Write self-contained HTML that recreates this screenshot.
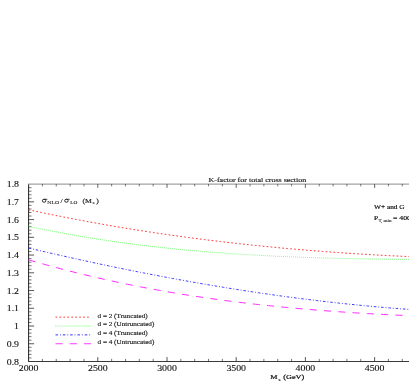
<!DOCTYPE html>
<html><head><meta charset="utf-8"><title>K-factor for total cross section</title>
<style>html,body{margin:0;padding:0;background:#fff;}body{width:409px;height:382px;overflow:hidden;font-family:"Liberation Serif",serif;}svg{display:block;}</style>
</head><body>
<svg width="409" height="382" viewBox="0 0 409 382">
<defs><filter id="b" x="-5%" y="-5%" width="110%" height="110%"><feGaussianBlur stdDeviation="0.35"/></filter></defs>
<rect width="409" height="382" fill="#fff"/>
<g filter="url(#b)">
<line x1="28.6" y1="184.1" x2="28.6" y2="361.5" stroke="#222" stroke-width="1"/>
<line x1="28.1" y1="361.5" x2="411" y2="361.5" stroke="#222" stroke-width="0.9"/>
<line x1="28.1" y1="184.1" x2="411" y2="184.1" stroke="#8a8a8a" stroke-width="1.0"/>
<path d="M28.6 343.76h5.5M28.6 326.02h5.5M28.6 308.28h5.5M28.6 290.54h5.5M28.6 272.80h5.5M28.6 255.06h5.5M28.6 237.32h5.5M28.6 219.58h5.5M28.6 201.84h5.5" stroke="#222" stroke-width="0.75" fill="none"/>
<path d="M28.6 357.95h2.9M28.6 354.40h2.9M28.6 350.86h2.9M28.6 347.31h2.9M28.6 340.21h2.9M28.6 336.66h2.9M28.6 333.12h2.9M28.6 329.57h2.9M28.6 322.47h2.9M28.6 318.92h2.9M28.6 315.38h2.9M28.6 311.83h2.9M28.6 304.73h2.9M28.6 301.18h2.9M28.6 297.64h2.9M28.6 294.09h2.9M28.6 286.99h2.9M28.6 283.44h2.9M28.6 279.90h2.9M28.6 276.35h2.9M28.6 269.25h2.9M28.6 265.70h2.9M28.6 262.16h2.9M28.6 258.61h2.9M28.6 251.51h2.9M28.6 247.96h2.9M28.6 244.42h2.9M28.6 240.87h2.9M28.6 233.77h2.9M28.6 230.22h2.9M28.6 226.68h2.9M28.6 223.13h2.9M28.6 216.03h2.9M28.6 212.48h2.9M28.6 208.94h2.9M28.6 205.39h2.9M28.6 198.29h2.9M28.6 194.74h2.9M28.6 191.20h2.9M28.6 187.65h2.9" stroke="#222" stroke-width="0.62" fill="none"/>
<path d="M97.80 361.5v-4.4M167.00 361.5v-4.4M236.20 361.5v-4.4M305.40 361.5v-4.4M374.60 361.5v-4.4" stroke="#222" stroke-width="0.75" fill="none"/>
<path d="M42.44 361.5v-2.6M56.28 361.5v-2.6M70.12 361.5v-2.6M83.96 361.5v-2.6M111.64 361.5v-2.6M125.48 361.5v-2.6M139.32 361.5v-2.6M153.16 361.5v-2.6M180.84 361.5v-2.6M194.68 361.5v-2.6M208.52 361.5v-2.6M222.36 361.5v-2.6M250.04 361.5v-2.6M263.88 361.5v-2.6M277.72 361.5v-2.6M291.56 361.5v-2.6M319.24 361.5v-2.6M333.08 361.5v-2.6M346.92 361.5v-2.6M360.76 361.5v-2.6M388.44 361.5v-2.6M402.28 361.5v-2.6" stroke="#222" stroke-width="0.62" fill="none"/>
<path d="M97.80 184.1v3.8M167.00 184.1v3.8M236.20 184.1v3.8M305.40 184.1v3.8M374.60 184.1v3.8" stroke="#222" stroke-width="0.7" fill="none"/>
<path d="M42.44 184.1v2.2M56.28 184.1v2.2M70.12 184.1v2.2M83.96 184.1v2.2M111.64 184.1v2.2M125.48 184.1v2.2M139.32 184.1v2.2M153.16 184.1v2.2M180.84 184.1v2.2M194.68 184.1v2.2M208.52 184.1v2.2M222.36 184.1v2.2M250.04 184.1v2.2M263.88 184.1v2.2M277.72 184.1v2.2M291.56 184.1v2.2M319.24 184.1v2.2M333.08 184.1v2.2M346.92 184.1v2.2M360.76 184.1v2.2M388.44 184.1v2.2M402.28 184.1v2.2" stroke="#222" stroke-width="0.62" fill="none"/>
<path d="M28.60 209.79 L31.80 210.48 L34.99 211.16 L38.19 211.84 L41.39 212.51 L44.58 213.18 L47.78 213.84 L50.98 214.49 L54.17 215.14 L57.37 215.78 L60.57 216.42 L63.76 217.05 L66.96 217.68 L70.16 218.30 L73.35 218.91 L76.55 219.52 L79.75 220.12 L82.94 220.72 L86.14 221.31 L89.34 221.90 L92.53 222.48 L95.73 223.06 L98.93 223.63 L102.12 224.20 L105.32 224.76 L108.52 225.31 L111.71 225.86 L114.91 226.41 L118.11 226.95 L121.30 227.48 L124.50 228.01 L127.70 228.53 L130.89 229.05 L134.09 229.57 L137.29 230.07 L140.48 230.58 L143.68 231.07 L146.88 231.57 L150.07 232.06 L153.27 232.54 L156.47 233.02 L159.66 233.49 L162.86 233.96 L166.06 234.42 L169.25 234.88 L172.45 235.33 L175.65 235.78 L178.84 236.22 L182.04 236.66 L185.24 237.09 L188.43 237.52 L191.63 237.95 L194.83 238.37 L198.02 238.78 L201.22 239.19 L204.42 239.59 L207.61 240.00 L210.81 240.39 L214.01 240.78 L217.20 241.17 L220.40 241.55 L223.59 241.93 L226.79 242.30 L229.99 242.67 L233.18 243.03 L236.38 243.39 L239.58 243.74 L242.77 244.09 L245.97 244.44 L249.17 244.78 L252.36 245.12 L255.56 245.45 L258.76 245.78 L261.95 246.10 L265.15 246.42 L268.35 246.73 L271.54 247.04 L274.74 247.35 L277.94 247.65 L281.13 247.95 L284.33 248.24 L287.53 248.53 L290.72 248.82 L293.92 249.10 L297.12 249.37 L300.31 249.65 L303.51 249.91 L306.71 250.18 L309.90 250.44 L313.10 250.69 L316.30 250.95 L319.49 251.19 L322.69 251.44 L325.89 251.68 L329.08 251.92 L332.28 252.15 L335.48 252.38 L338.67 252.60 L341.87 252.82 L345.07 253.04 L348.26 253.25 L351.46 253.46 L354.66 253.67 L357.85 253.87 L361.05 254.06 L364.25 254.26 L367.44 254.45 L370.64 254.64 L373.84 254.82 L377.03 255.00 L380.23 255.17 L383.43 255.35 L386.62 255.52 L389.82 255.68 L393.02 255.84 L396.21 256.00 L399.41 256.15 L402.61 256.30 L405.80 256.45 L409.00 256.60" stroke="#ff2020" stroke-width="0.9" stroke-dasharray="1.7 2.25" stroke-linecap="butt" fill="none" opacity="1"/>
<path d="M28.60 226.28 L31.80 226.96 L34.99 227.64 L38.19 228.31 L41.39 228.97 L44.58 229.62 L47.78 230.26 L50.98 230.89 L54.17 231.51 L57.37 232.13 L60.57 232.73 L63.76 233.33 L66.96 233.91 L70.16 234.49 L73.35 235.06 L76.55 235.62 L79.75 236.17 L82.94 236.71 L86.14 237.24 L89.34 237.77 L92.53 238.29 L95.73 238.80 L98.93 239.30 L102.12 239.79 L105.32 240.27 L108.52 240.75 L111.71 241.22 L114.91 241.68 L118.11 242.13 L121.30 242.57 L124.50 243.01 L127.70 243.44 L130.89 243.86 L134.09 244.28 L137.29 244.68 L140.48 245.08 L143.68 245.47 L146.88 245.86 L150.07 246.24 L153.27 246.61 L156.47 246.97 L159.66 247.33 L162.86 247.68 L166.06 248.02 L169.25 248.36 L172.45 248.69 L175.65 249.01 L178.84 249.32 L182.04 249.63 L185.24 249.94 L188.43 250.24 L191.63 250.53 L194.83 250.81 L198.02 251.09 L201.22 251.36 L204.42 251.63 L207.61 251.89 L210.81 252.14 L214.01 252.39 L217.20 252.64 L220.40 252.87 L223.59 253.11 L226.79 253.33 L229.99 253.55 L233.18 253.77 L236.38 253.98 L239.58 254.19 L242.77 254.39 L245.97 254.58 L249.17 254.77 L252.36 254.96 L255.56 255.14 L258.76 255.31 L261.95 255.48 L265.15 255.65 L268.35 255.81 L271.54 255.97 L274.74 256.12 L277.94 256.27 L281.13 256.41 L284.33 256.55 L287.53 256.68 L290.72 256.82 L293.92 256.94 L297.12 257.07 L300.31 257.18 L303.51 257.30 L306.71 257.41 L309.90 257.52 L313.10 257.62 L316.30 257.72 L319.49 257.82 L322.69 257.91 L325.89 258.00 L329.08 258.09 L332.28 258.17 L335.48 258.25 L338.67 258.33 L341.87 258.41 L345.07 258.48 L348.26 258.54 L351.46 258.61 L354.66 258.67 L357.85 258.73 L361.05 258.79 L364.25 258.85 L367.44 258.90 L370.64 258.95 L373.84 259.00 L377.03 259.04 L380.23 259.08 L383.43 259.13 L386.62 259.16 L389.82 259.20 L393.02 259.24 L396.21 259.27 L399.41 259.30 L402.61 259.33 L405.80 259.36 L409.00 259.38" stroke="#30ff30" stroke-width="0.82" stroke-dasharray="0.72 1.3" stroke-linecap="butt" fill="none" opacity="1"/>
<path d="M28.60 248.01 L31.80 248.76 L34.99 249.51 L38.19 250.26 L41.39 251.00 L44.58 251.74 L47.78 252.48 L50.98 253.21 L54.17 253.94 L57.37 254.67 L60.57 255.39 L63.76 256.11 L66.96 256.83 L70.16 257.54 L73.35 258.25 L76.55 258.96 L79.75 259.66 L82.94 260.36 L86.14 261.06 L89.34 261.75 L92.53 262.44 L95.73 263.13 L98.93 263.81 L102.12 264.49 L105.32 265.16 L108.52 265.83 L111.71 266.50 L114.91 267.16 L118.11 267.82 L121.30 268.48 L124.50 269.13 L127.70 269.78 L130.89 270.42 L134.09 271.06 L137.29 271.70 L140.48 272.33 L143.68 272.96 L146.88 273.58 L150.07 274.20 L153.27 274.82 L156.47 275.43 L159.66 276.04 L162.86 276.65 L166.06 277.25 L169.25 277.84 L172.45 278.44 L175.65 279.02 L178.84 279.61 L182.04 280.19 L185.24 280.76 L188.43 281.33 L191.63 281.90 L194.83 282.47 L198.02 283.02 L201.22 283.58 L204.42 284.13 L207.61 284.67 L210.81 285.22 L214.01 285.75 L217.20 286.29 L220.40 286.81 L223.59 287.34 L226.79 287.86 L229.99 288.37 L233.18 288.88 L236.38 289.39 L239.58 289.89 L242.77 290.39 L245.97 290.88 L249.17 291.37 L252.36 291.85 L255.56 292.33 L258.76 292.80 L261.95 293.27 L265.15 293.73 L268.35 294.19 L271.54 294.65 L274.74 295.10 L277.94 295.54 L281.13 295.98 L284.33 296.42 L287.53 296.85 L290.72 297.28 L293.92 297.70 L297.12 298.11 L300.31 298.52 L303.51 298.93 L306.71 299.33 L309.90 299.73 L313.10 300.12 L316.30 300.50 L319.49 300.88 L322.69 301.26 L325.89 301.63 L329.08 302.00 L332.28 302.36 L335.48 302.71 L338.67 303.06 L341.87 303.41 L345.07 303.75 L348.26 304.08 L351.46 304.41 L354.66 304.73 L357.85 305.05 L361.05 305.36 L364.25 305.67 L367.44 305.97 L370.64 306.27 L373.84 306.56 L377.03 306.85 L380.23 307.13 L383.43 307.40 L386.62 307.67 L389.82 307.94 L393.02 308.20 L396.21 308.45 L399.41 308.70 L402.61 308.94 L405.80 309.17 L409.00 309.40" stroke="#2828ff" stroke-width="0.9" stroke-dasharray="2.6 1.9 0.9 1.9" stroke-linecap="butt" fill="none" opacity="1"/>
<path d="M28.60 259.81 L31.80 260.74 L34.99 261.67 L38.19 262.58 L41.39 263.49 L44.58 264.39 L47.78 265.27 L50.98 266.15 L54.17 267.01 L57.37 267.87 L60.57 268.71 L63.76 269.55 L66.96 270.38 L70.16 271.19 L73.35 272.00 L76.55 272.80 L79.75 273.59 L82.94 274.37 L86.14 275.14 L89.34 275.90 L92.53 276.65 L95.73 277.39 L98.93 278.13 L102.12 278.85 L105.32 279.57 L108.52 280.27 L111.71 280.97 L114.91 281.66 L118.11 282.34 L121.30 283.01 L124.50 283.68 L127.70 284.33 L130.89 284.98 L134.09 285.61 L137.29 286.24 L140.48 286.86 L143.68 287.48 L146.88 288.08 L150.07 288.68 L153.27 289.27 L156.47 289.85 L159.66 290.42 L162.86 290.99 L166.06 291.54 L169.25 292.09 L172.45 292.63 L175.65 293.17 L178.84 293.69 L182.04 294.21 L185.24 294.73 L188.43 295.23 L191.63 295.73 L194.83 296.22 L198.02 296.70 L201.22 297.17 L204.42 297.64 L207.61 298.10 L210.81 298.56 L214.01 299.01 L217.20 299.45 L220.40 299.88 L223.59 300.31 L226.79 300.73 L229.99 301.14 L233.18 301.55 L236.38 301.95 L239.58 302.35 L242.77 302.73 L245.97 303.12 L249.17 303.49 L252.36 303.86 L255.56 304.23 L258.76 304.58 L261.95 304.94 L265.15 305.28 L268.35 305.62 L271.54 305.96 L274.74 306.28 L277.94 306.61 L281.13 306.92 L284.33 307.23 L287.53 307.54 L290.72 307.84 L293.92 308.14 L297.12 308.43 L300.31 308.71 L303.51 308.99 L306.71 309.27 L309.90 309.53 L313.10 309.80 L316.30 310.06 L319.49 310.31 L322.69 310.56 L325.89 310.81 L329.08 311.05 L332.28 311.28 L335.48 311.51 L338.67 311.74 L341.87 311.96 L345.07 312.18 L348.26 312.39 L351.46 312.60 L354.66 312.81 L357.85 313.01 L361.05 313.20 L364.25 313.40 L367.44 313.59 L370.64 313.77 L373.84 313.95 L377.03 314.13 L380.23 314.30 L383.43 314.47 L386.62 314.64 L389.82 314.80 L393.02 314.96 L396.21 315.11 L399.41 315.27 L402.61 315.42 L405.80 315.56 L409.00 315.70" stroke="#ff20ff" stroke-width="0.95" stroke-dasharray="7.1 7.2" stroke-linecap="butt" fill="none" opacity="1"/>
<line x1="55.5" y1="317.15" x2="91" y2="317.15" stroke="#ff2020" stroke-width="0.9" stroke-dasharray="1.7 2.25"/>
<line x1="55.5" y1="326.02" x2="91" y2="326.02" stroke="#30ff30" stroke-width="0.9" stroke-dasharray="0.72 1.3"/>
<line x1="55.5" y1="334.89" x2="91" y2="334.89" stroke="#2020ff" stroke-width="0.9" stroke-dasharray="2.6 1.9 0.9 1.9"/>
<line x1="55.5" y1="343.76" x2="91" y2="343.76" stroke="#ff20ff" stroke-width="0.9" stroke-dasharray="7.1 7.2"/>
<text transform="translate(97.5 317.54999999999995) scale(1.14 1)" font-size="6.3" font-family="Liberation Serif, serif" fill="#111" stroke="#111" stroke-width="0.12" text-anchor="start">d = 2 (Truncated)</text>
<text transform="translate(97.5 326.41999999999996) scale(1.14 1)" font-size="6.3" font-family="Liberation Serif, serif" fill="#111" stroke="#111" stroke-width="0.12" text-anchor="start">d = 2 (Untruncated)</text>
<text transform="translate(97.5 335.28999999999996) scale(1.14 1)" font-size="6.3" font-family="Liberation Serif, serif" fill="#111" stroke="#111" stroke-width="0.12" text-anchor="start">d = 4 (Truncated)</text>
<text transform="translate(97.5 344.15999999999997) scale(1.14 1)" font-size="6.3" font-family="Liberation Serif, serif" fill="#111" stroke="#111" stroke-width="0.12" text-anchor="start">d = 4 (Untruncated)</text>
<text transform="translate(19.0 364.5) scale(1.31 1)" font-size="7.5" font-family="Liberation Serif, serif" fill="#111" stroke="#111" stroke-width="0.1" text-anchor="end">0.8</text>
<text transform="translate(19.0 346.76) scale(1.31 1)" font-size="7.5" font-family="Liberation Serif, serif" fill="#111" stroke="#111" stroke-width="0.1" text-anchor="end">0.9</text>
<text transform="translate(19.0 329.02) scale(1.31 1)" font-size="7.5" font-family="Liberation Serif, serif" fill="#111" stroke="#111" stroke-width="0.1" text-anchor="end">1</text>
<text transform="translate(19.0 311.28) scale(1.31 1)" font-size="7.5" font-family="Liberation Serif, serif" fill="#111" stroke="#111" stroke-width="0.1" text-anchor="end">1.1</text>
<text transform="translate(19.0 293.53999999999996) scale(1.31 1)" font-size="7.5" font-family="Liberation Serif, serif" fill="#111" stroke="#111" stroke-width="0.1" text-anchor="end">1.2</text>
<text transform="translate(19.0 275.8) scale(1.31 1)" font-size="7.5" font-family="Liberation Serif, serif" fill="#111" stroke="#111" stroke-width="0.1" text-anchor="end">1.3</text>
<text transform="translate(19.0 258.05999999999995) scale(1.31 1)" font-size="7.5" font-family="Liberation Serif, serif" fill="#111" stroke="#111" stroke-width="0.1" text-anchor="end">1.4</text>
<text transform="translate(19.0 240.32) scale(1.31 1)" font-size="7.5" font-family="Liberation Serif, serif" fill="#111" stroke="#111" stroke-width="0.1" text-anchor="end">1.5</text>
<text transform="translate(19.0 222.57999999999998) scale(1.31 1)" font-size="7.5" font-family="Liberation Serif, serif" fill="#111" stroke="#111" stroke-width="0.1" text-anchor="end">1.6</text>
<text transform="translate(19.0 204.83999999999997) scale(1.31 1)" font-size="7.5" font-family="Liberation Serif, serif" fill="#111" stroke="#111" stroke-width="0.1" text-anchor="end">1.7</text>
<text transform="translate(19.0 187.1) scale(1.31 1)" font-size="7.5" font-family="Liberation Serif, serif" fill="#111" stroke="#111" stroke-width="0.1" text-anchor="end">1.8</text>
<text transform="translate(28.6 370.6) scale(1.31 1)" font-size="7.5" font-family="Liberation Serif, serif" fill="#111" stroke="#111" stroke-width="0.1" text-anchor="middle">2000</text>
<text transform="translate(97.80000000000001 370.6) scale(1.31 1)" font-size="7.5" font-family="Liberation Serif, serif" fill="#111" stroke="#111" stroke-width="0.1" text-anchor="middle">2500</text>
<text transform="translate(167.0 370.6) scale(1.31 1)" font-size="7.5" font-family="Liberation Serif, serif" fill="#111" stroke="#111" stroke-width="0.1" text-anchor="middle">3000</text>
<text transform="translate(236.2 370.6) scale(1.31 1)" font-size="7.5" font-family="Liberation Serif, serif" fill="#111" stroke="#111" stroke-width="0.1" text-anchor="middle">3500</text>
<text transform="translate(305.40000000000003 370.6) scale(1.31 1)" font-size="7.5" font-family="Liberation Serif, serif" fill="#111" stroke="#111" stroke-width="0.1" text-anchor="middle">4000</text>
<text transform="translate(374.6 370.6) scale(1.31 1)" font-size="7.5" font-family="Liberation Serif, serif" fill="#111" stroke="#111" stroke-width="0.1" text-anchor="middle">4500</text>
<text transform="translate(257.4 181.5) scale(1.295 1)" font-size="6.2" font-family="Liberation Serif, serif" fill="#111" stroke="#111" stroke-width="0.12" text-anchor="middle">K-factor for total cross section</text>
<text transform="translate(270.2 378.7) scale(1.24 1)" font-size="6.6" font-family="Liberation Serif, serif" fill="#111" stroke="#111" stroke-width="0.22" text-anchor="start">M</text>
<text transform="translate(278.4 380.7) scale(1.25 1)" font-size="4.2" font-family="Liberation Serif, serif" fill="#111" stroke="#111" stroke-width="0.1" text-anchor="start">s</text>
<text transform="translate(283.3 378.7) scale(1.24 1)" font-size="6.6" font-family="Liberation Serif, serif" fill="#111" stroke="#111" stroke-width="0.22" text-anchor="start">(GeV)</text>
<ellipse cx="44.1" cy="200.75" rx="1.75" ry="1.5" fill="none" stroke="#111" stroke-width="0.85"/>
<path d="M44.0 199.3H47.3" stroke="#111" stroke-width="0.8" fill="none"/>
<text transform="translate(47.3 203.9) scale(1.3 1)" font-size="4.4" font-family="Liberation Serif, serif" fill="#111" stroke="#111" stroke-width="0.08" text-anchor="start">NLO</text>
<text transform="translate(60.6 202.5) scale(1.25 1)" font-size="6.2" font-family="Liberation Serif, serif" fill="#111" stroke="#111" stroke-width="0.12" text-anchor="start">/</text>
<ellipse cx="66.39999999999999" cy="200.75" rx="1.75" ry="1.5" fill="none" stroke="#111" stroke-width="0.85"/>
<path d="M66.3 199.3H69.6" stroke="#111" stroke-width="0.8" fill="none"/>
<text transform="translate(70.2 203.9) scale(1.2 1)" font-size="4.4" font-family="Liberation Serif, serif" fill="#111" stroke="#111" stroke-width="0.08" text-anchor="start">LO</text>
<text transform="translate(82.4 202.5) scale(1.25 1)" font-size="6.2" font-family="Liberation Serif, serif" fill="#111" stroke="#111" stroke-width="0.12" text-anchor="start">(M</text>
<text transform="translate(92.6 203.9) scale(1.25 1)" font-size="4.2" font-family="Liberation Serif, serif" fill="#111" stroke="#111" stroke-width="0.08" text-anchor="start">s</text>
<text transform="translate(96.2 202.5) scale(1.25 1)" font-size="6.2" font-family="Liberation Serif, serif" fill="#111" stroke="#111" stroke-width="0.12" text-anchor="start">)</text>
<text transform="translate(374.0 209.1) scale(1.185 1)" font-size="6.2" font-family="Liberation Serif, serif" fill="#111" stroke="#111" stroke-width="0.18" text-anchor="start">W+ and G</text>
<text transform="translate(374.0 219.6) scale(1.21 1)" font-size="6.2" font-family="Liberation Serif, serif" fill="#111" stroke="#111" stroke-width="0.18" text-anchor="start">P</text>
<text transform="translate(378.4 221.8) scale(1.23 1)" font-size="4.1" font-family="Liberation Serif, serif" fill="#111" stroke="#111" stroke-width="0.08" text-anchor="start">T, min</text>
<text transform="translate(393.0 219.6) scale(1.25 1)" font-size="6.2" font-family="Liberation Serif, serif" fill="#111" stroke="#111" stroke-width="0.18" text-anchor="start">= 400</text>
</g>
</svg></body></html>
